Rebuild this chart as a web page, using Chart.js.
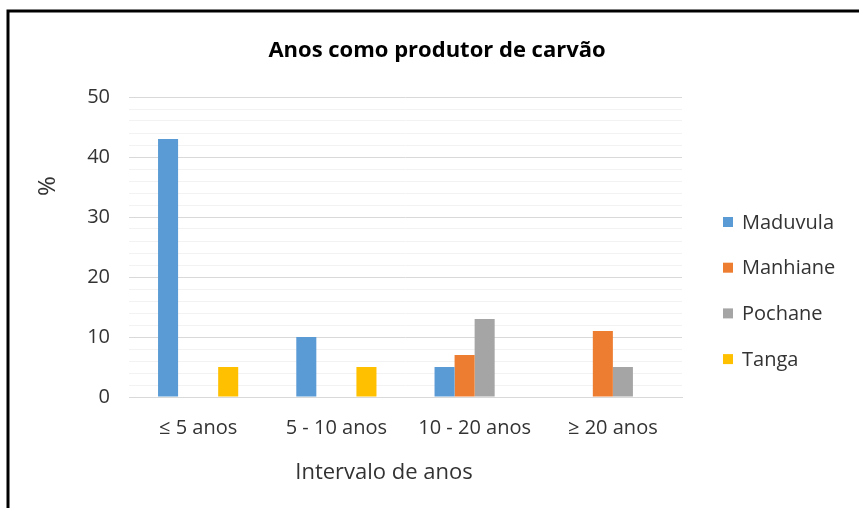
<!DOCTYPE html>
<html lang="pt">
<head>
<meta charset="utf-8">
<title>Anos como produtor de carvão</title>
<script src="https://cdn.jsdelivr.net/npm/chart.js@4/dist/chart.umd.min.js"></script>
<style>
  html, body { margin: 0; padding: 0; background: #fff; }
  #wrap { position: relative; width: 859px; height: 508px; }
  canvas { display: block; }
</style>
</head>
<body>
<div id="wrap"><canvas id="chart" width="859" height="508"></canvas></div>
<script>
// Categories (year intervals) and the share of producers per locality, in %
const categories = ['≤ 5 anos', '5 - 10 anos', '10 - 20 anos', '≥ 20 anos'];
const maduvula = [43, 10, 5, 0];
const manhiane = [0, 0, 7, 11];
const pochane  = [0, 0, 13, 5];
const tanga    = [5, 5, 0, 0];
const seriesNames = ['Maduvula', 'Manhiane', 'Pochane', 'Tanga'];
const yTicks = [0, 10, 20, 30, 40, 50];

const chartTitle = 'Anos como produtor de carvão';
const xTitle = 'Intervalo de anos';
const yTitle = '%';

const colors = ['#5B9BD5', '#ED7D31', '#A5A5A5', '#FFC000'];
const FONT = '"Open Sans", Lato, "Liberation Sans", sans-serif';
const TEXT = '#333333';

// Frame, title, axis titles and legend drawn on the canvas
const decorations = {
  id: 'decorations',
  beforeDraw(chart) {
    const ctx = chart.ctx;
    ctx.save();
    ctx.fillStyle = '#ffffff';
    ctx.fillRect(0, 0, chart.width, chart.height);
    ctx.restore();
  },
  afterDraw(chart) {
    const ctx = chart.ctx;
    ctx.save();
    // outer frame
    ctx.strokeStyle = '#000000';
    ctx.lineWidth = 3;
    ctx.beginPath();
    ctx.moveTo(8, chart.height + 2);
    ctx.lineTo(8, 11);
    ctx.lineTo(chart.width + 2, 11);
    ctx.stroke();

    ctx.fillStyle = '#000000';
    ctx.textAlign = 'center';
    ctx.textBaseline = 'middle';
    ctx.font = 'bold 22px ' + FONT;
    ctx.fillText(chartTitle, 437, 51);

    ctx.fillStyle = TEXT;
    ctx.font = '22px ' + FONT;
    ctx.fillText(xTitle, 384, 473);

    ctx.save();
    ctx.translate(48, 186);
    ctx.rotate(-Math.PI / 2);
    ctx.font = '24px ' + FONT;
    ctx.fillText(yTitle, 0, 0);
    ctx.restore();

    // legend
    ctx.font = '20px ' + FONT;
    ctx.textAlign = 'left';
    chart.data.datasets.forEach((ds, i) => {
      const y = 222 + i * 45.7;
      ctx.fillStyle = ds.backgroundColor;
      ctx.fillRect(723, y - 5, 10, 10);
      ctx.fillStyle = TEXT;
      ctx.fillText(ds.label, 742, y + 1);
    });
    ctx.restore();
  }
};

const datasets = [maduvula, manhiane, pochane, tanga].map((vals, i) => ({
  label: seriesNames[i],
  data: vals,
  backgroundColor: colors[i],
  borderWidth: 0,
  categoryPercentage: 0.58,
  barPercentage: 1.0
}));

new Chart(document.getElementById('chart'), {
  type: 'bar',
  data: { labels: categories, datasets },
  options: {
    responsive: false,
    animation: false,
    events: [],
    layout: { padding: { left: 0, right: 177, top: 97, bottom: 0 } },
    plugins: {
      legend: { display: false },
      title: { display: false },
      tooltip: { enabled: false }
    },
    scales: {
      x: {
        grid: { display: false, drawTicks: false },
        border: { display: true, color: '#d9d9d9', width: 1 },
        ticks: {
          color: TEXT,
          font: { family: FONT, size: 20 },
          padding: 19,
          maxRotation: 0
        },
        afterFit(scale) { scale.height = 111; }
      },
      y: {
        min: 0,
        max: 50,
        grid: {
          drawTicks: false,
          color(ctx) {
            const v = ctx.tick ? ctx.tick.value : 0;
            return yTicks.includes(v) ? '#d9d9d9' : '#f2f2f2';
          },
          lineWidth: 1
        },
        border: { display: false },
        ticks: {
          stepSize: 2,
          autoSkip: false,
          color: TEXT,
          font: { family: FONT, size: 20 },
          padding: 19,
          callback(v) { return yTicks.includes(v) ? String(v) : ''; }
        },
        afterFit(scale) { scale.width = 129; }
      }
    }
  },
  plugins: [decorations]
});
</script>
</body>
</html>
